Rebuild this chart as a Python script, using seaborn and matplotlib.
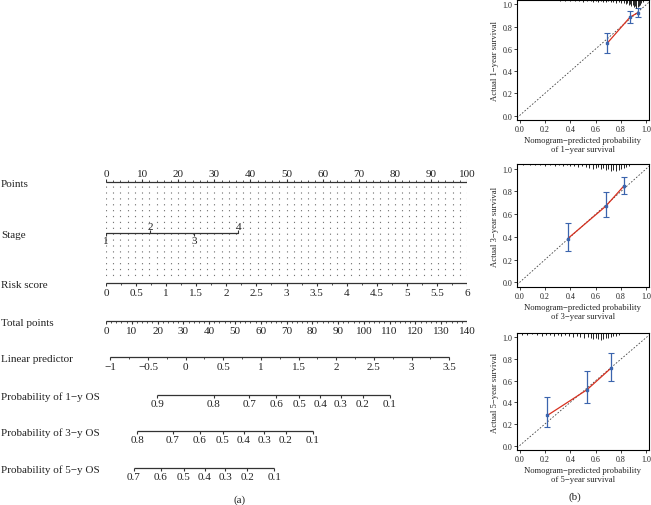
import numpy as np
import pandas as pd
import matplotlib
matplotlib.use("Agg")
import matplotlib.pyplot as plt
import seaborn as sns
from matplotlib.transforms import blended_transform_factory

# ---- nomogram model ----
stage_levels = ["1", "2", "3", "4"]
stage_points = [0, 12.3, 24.5, 36.7]
risk_ticks = [0, 0.5, 1, 1.5, 2, 2.5, 3, 3.5, 4, 4.5, 5, 5.5, 6]
risk_max = 6  # risk score 6 = 100 points
points_ticks = list(range(0, 101, 10))
total_ticks = list(range(0, 141, 10))
total_max = 140
lp_intercept = -1.058
lp_per_point = 0.03425
lp_ticks = [-1, -0.5, 0, 0.5, 1, 1.5, 2, 2.5, 3, 3.5]
base_surv = {"1": 0.858, "3": 0.654, "5": 0.4915}
p1_ticks = [0.9, 0.8, 0.7, 0.6, 0.5, 0.4, 0.3, 0.2, 0.1]
p3_ticks = [0.8, 0.7, 0.6, 0.5, 0.4, 0.3, 0.2, 0.1]
p5_ticks = [0.7, 0.6, 0.5, 0.4, 0.3, 0.2, 0.1]

# ---- calibration curves ----
cal1_pred = [0.69, 0.87, 0.93]
cal1_obs = [0.65, 0.885, 0.925]
cal1_lo = [0.56, 0.835, 0.885]
cal1_hi = [0.745, 0.94, 0.97]

cal3_pred = [0.38, 0.68, 0.82]
cal3_obs = [0.385, 0.67, 0.845]
cal3_lo = [0.275, 0.575, 0.775]
cal3_hi = [0.525, 0.795, 0.93]

cal5_pred = [0.22, 0.53, 0.72]
cal5_obs = [0.28, 0.515, 0.715]
cal5_lo = [0.17, 0.39, 0.60]
cal5_hi = [0.45, 0.69, 0.86]

# distribution of predicted probabilities (rug at top)
rug1_x = [0.32, 0.36, 0.40, 0.44, 0.47, 0.50, 0.53, 0.56, 0.58, 0.60, 0.62, 0.64,
          0.66, 0.68, 0.70, 0.72, 0.74, 0.76, 0.78, 0.80, 0.82, 0.84, 0.85, 0.86,
          0.87, 0.88, 0.89, 0.90, 0.91, 0.92, 0.93, 0.94, 0.95, 0.96, 0.97]
rug1_n = [1, 1, 1, 1, 1, 2, 1, 1, 2, 1, 2, 1, 2, 2, 1, 2, 2, 3, 2, 3, 3, 4, 3, 5,
          4, 6, 5, 7, 6, 8, 7, 6, 5, 3, 2]
rug3_x = [0.03, 0.08, 0.12, 0.16, 0.20, 0.24, 0.28, 0.31, 0.34, 0.37, 0.40, 0.43,
          0.46, 0.49, 0.52, 0.55, 0.58, 0.60, 0.62, 0.64, 0.66, 0.68, 0.70, 0.72,
          0.74, 0.76, 0.78, 0.80, 0.82, 0.84, 0.86]
rug3_n = [1, 1, 1, 1, 2, 1, 2, 1, 2, 1, 2, 2, 3, 2, 3, 4, 5, 4, 3, 5, 4, 6, 5, 7,
          6, 7, 6, 5, 4, 3, 2]
rug5_x = [0.02, 0.06, 0.10, 0.14, 0.18, 0.21, 0.24, 0.27, 0.30, 0.33, 0.36, 0.39,
          0.42, 0.45, 0.48, 0.51, 0.54, 0.56, 0.58, 0.60, 0.62, 0.64, 0.66, 0.68,
          0.70, 0.72, 0.74, 0.76, 0.78]
rug5_n = [2, 2, 1, 2, 3, 2, 2, 3, 2, 3, 2, 3, 4, 3, 4, 5, 4, 5, 6, 5, 6, 7, 6, 5,
          5, 4, 3, 3, 2]

sns.set_style("ticks")
plt.rcParams["font.family"] = ["Liberation Serif", "DejaVu Serif"]

W, H = 651, 506
fig = plt.figure(figsize=(W / 100, H / 100), dpi=100)

# nomogram: x in "points" units, y in pixel rows
ax = fig.add_axes([106 / W, 0, 361 / W, 1])
ax.set_xlim(0, 100)
ax.set_ylim(H, 0)
ax.axis("off")
lab_tr = blended_transform_factory(fig.transFigure, ax.transData)

LC = "#333333"
FS = 8


def total_to_x(tp):
    return np.asarray(tp, dtype=float) * 100 / total_max


def lp_to_x(lp):
    return total_to_x((np.asarray(lp, dtype=float) - lp_intercept) / lp_per_point)


def prob_to_x(p, year):
    p = np.asarray(p, dtype=float)
    lp = np.log(-np.log(p)) - np.log(-np.log(base_surv[year]))
    return lp_to_x(lp)


def scale(y, xs, labels, up=False, minor=None, ticklen=3):
    allx = list(xs) + (list(minor) if minor is not None else [])
    ax.plot([min(allx), max(allx)], [y, y], color=LC, lw=0.9, solid_capstyle="butt")
    s = -1 if up else 1
    ax.vlines(xs, y, y + s * ticklen, color=LC, lw=0.8)
    if minor is not None:
        ax.vlines(minor, y, y + s * ticklen * 0.6, color=LC, lw=0.6)
    for x, t in zip(xs, labels):
        ax.text(x, y + s * 4.5, t, ha="center", va="bottom" if up else "top",
                fontsize=FS, color="#222222")


def fmt(v):
    return ("%g" % v).replace("-", "\u2212")


# dotted grid
grid_x = np.arange(0, 101, 2)
ax.vlines(grid_x, 187, 280, color="#777777", lw=0.8, linestyles=(0, (1.1, 4.2)))

# Points
scale(183, points_ticks, [str(v) for v in points_ticks], up=True,
      minor=np.arange(0, 101, 2))

# Stage
ax.plot([stage_points[0], stage_points[-1]], [234, 234], color=LC, lw=0.9)
for i, (sp, lv) in enumerate(zip(stage_points, stage_levels)):
    up = i % 2 == 1
    s = -1 if up else 1
    ax.vlines(sp, 234, 234 + s * 3, color=LC, lw=0.8)
    ax.text(sp, 234 + s * 2.5, lv, ha="center", va="bottom" if up else "top",
            fontsize=FS, color="#222222")

# Risk score
risk_x = np.array(risk_ticks) * 100 / risk_max
scale(284, risk_x, [fmt(v) for v in risk_ticks],
      minor=np.arange(0, 6.01, 0.25) * 100 / risk_max)

# Total points
scale(322, total_to_x(total_ticks), [str(v) for v in total_ticks],
      minor=total_to_x(np.arange(0, 141, 2)))

# Linear predictor
scale(358, lp_to_x(lp_ticks), [fmt(v) for v in lp_ticks],
      minor=lp_to_x(np.arange(-1, 3.51, 0.25)))

# Survival probabilities
scale(396, prob_to_x(p1_ticks, "1"), [fmt(v) for v in p1_ticks])
scale(432, prob_to_x(p3_ticks, "3"), [fmt(v) for v in p3_ticks])
scale(469, prob_to_x(p5_ticks, "5"), [fmt(v) for v in p5_ticks])

row_names = [("Points", 183), ("Stage", 234), ("Risk score", 284),
             ("Total points", 322), ("Linear predictor", 359),
             ("Probability of 1\u2212y OS", 396), ("Probability of 3\u2212y OS", 432),
             ("Probability of 5\u2212y OS", 469)]
for name, y in row_names:
    ax.text(1 / W, y + 1, name, transform=lab_tr, ha="left", va="center",
            fontsize=FS, color="#222222")

fig.text(240 / W, 1 - 500 / H, "(a)", ha="center", va="center", fontsize=FS)
fig.text(575 / W, 1 - 497 / H, "(b)", ha="center", va="center", fontsize=FS)


# calibration plots
def calib(rect, pred, obs, lo, hi, rx, rn, year):
    a = fig.add_axes(rect)
    df = pd.DataFrame({"pred": pred, "obs": obs})
    a.axline((0, 0), (1, 1), ls=(0, (2, 2)), color="#444444", lw=0.6)
    sns.lineplot(data=df, x="pred", y="obs", color="#d7301f", lw=0.9, ax=a)
    obs = np.array(obs)
    a.errorbar(pred, obs, yerr=[obs - np.array(lo), np.array(hi) - obs], fmt="s",
               ms=2, color="#3b64ad", ecolor="#3b64ad", elinewidth=0.9, capsize=2,
               capthick=0.8)
    top = 1.04
    a.vlines(rx, top - np.array(rn) * 0.009, top, color="black", lw=0.6)
    a.set_xlim(-0.02, 1.02)
    a.set_ylim(-0.04, top)
    ticks = [0, 0.2, 0.4, 0.6, 0.8, 1.0]
    a.set_xticks(ticks)
    a.set_yticks(ticks)
    a.set_xticklabels(["%.1f" % t for t in ticks])
    a.set_yticklabels(["%.1f" % t for t in ticks])
    a.tick_params(labelsize=5.8, length=2, width=0.6, pad=1.5, colors="#222222")
    for sp in a.spines.values():
        sp.set_visible(True)
        sp.set_linewidth(0.8)
        sp.set_color("black")
    a.set_xlabel("Nomogram\u2212predicted probability\nof %s\u2212year survival" % year,
                 fontsize=6.2, labelpad=2, linespacing=1.15)
    a.set_ylabel("Actual %s\u2212year survival" % year, fontsize=6.2, labelpad=2)
    return a


calib([517 / W, 1 - 121 / H, 132 / W, 120 / H], cal1_pred, cal1_obs, cal1_lo, cal1_hi,
      rug1_x, rug1_n, "1")
calib([517 / W, 1 - 288 / H, 132 / W, 123 / H], cal3_pred, cal3_obs, cal3_lo, cal3_hi,
      rug3_x, rug3_n, "3")
calib([517 / W, 1 - 451 / H, 132 / W, 117 / H], cal5_pred, cal5_obs, cal5_lo, cal5_hi,
      rug5_x, rug5_n, "5")

fig.savefig("out.png", dpi=100)
